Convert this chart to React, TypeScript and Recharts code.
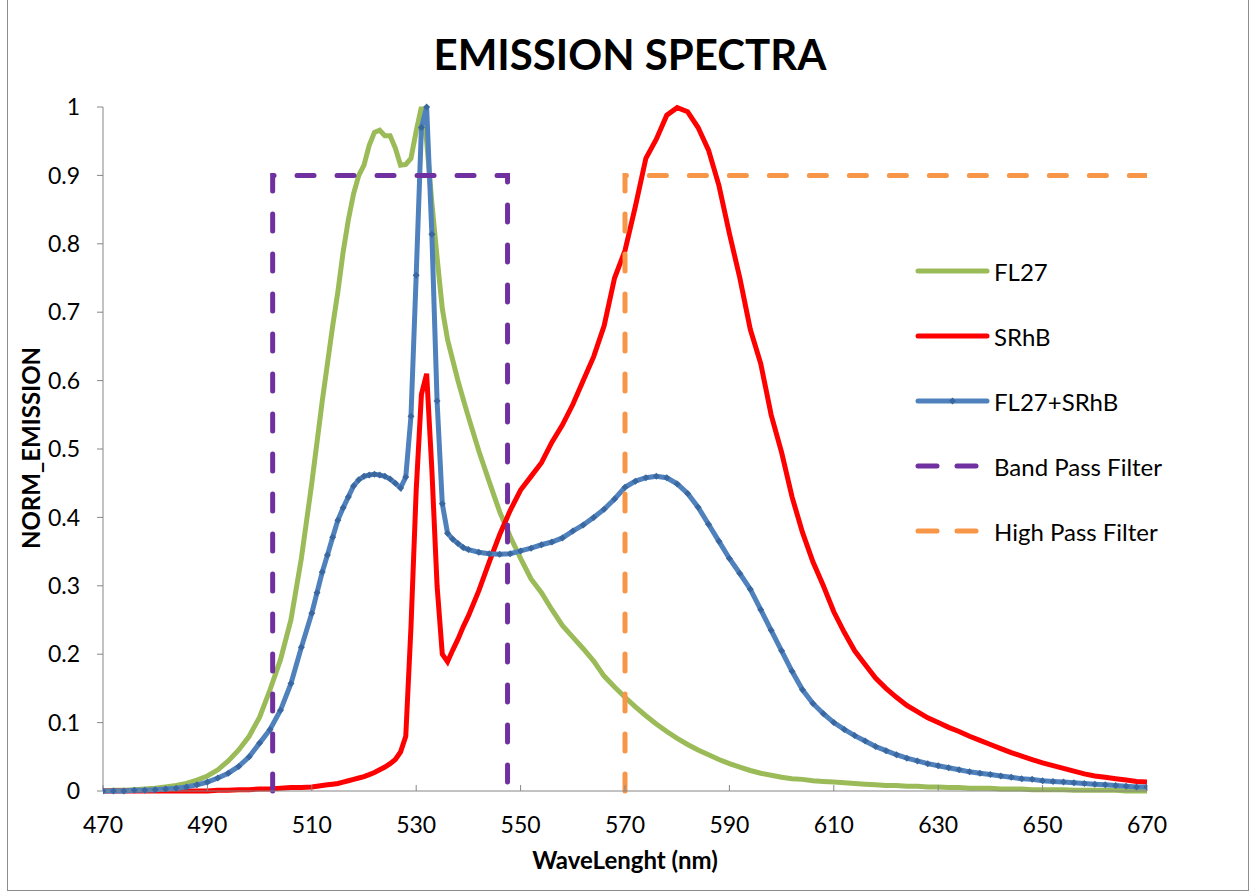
import React from 'react';
import { LineChart, Line, XAxis, YAxis } from 'recharts';

const W = 1253;
const H = 893;
const FONT = 'Lato, "Open Sans", sans-serif';

// wavelength grid (nm): 2 nm steps, 1 nm around the peaks
const WL = [
  470, 472, 474, 476, 478, 480, 482, 484, 486, 488, 490, 492, 494, 496, 498, 500, 502, 504, 506, 508, 510,
  511, 512, 513, 514, 515, 516, 517, 518, 519, 520, 521, 522, 523, 524, 525, 526, 527, 528, 529, 530,
  531, 532, 533, 534, 535, 536, 537, 538, 539, 540,
  542, 544, 546, 548, 550, 552, 554, 556, 558, 560, 562, 564, 566, 568, 570, 572, 574, 576, 578, 580,
  582, 584, 586, 588, 590, 592, 594, 596, 598, 600, 602, 604, 606, 608, 610, 612, 614, 616, 618, 620,
  622, 624, 626, 628, 630, 632, 634, 636, 638, 640, 642, 644, 646, 648, 650, 652, 654, 656, 658, 660,
  662, 664, 666, 668, 670,
];

const FL27 = [
  0, 0.001, 0.001, 0.002, 0.003, 0.004, 0.006, 0.008, 0.011, 0.016, 0.022, 0.031, 0.044, 0.06, 0.08, 0.108, 0.148, 0.192, 0.25, 0.34, 0.45,
  0.51, 0.57, 0.625, 0.68, 0.73, 0.788, 0.835, 0.873, 0.9, 0.915, 0.944, 0.963, 0.966, 0.958, 0.958, 0.94, 0.915, 0.916, 0.925, 0.965,
  1.0, 0.95, 0.86, 0.78, 0.705, 0.66, 0.63, 0.6, 0.573, 0.547,
  0.497, 0.452, 0.408, 0.372, 0.34, 0.31, 0.29, 0.265, 0.242, 0.225, 0.208, 0.19, 0.168, 0.152, 0.137, 0.123, 0.11, 0.098, 0.087, 0.077,
  0.068, 0.06, 0.053, 0.046, 0.04, 0.035, 0.03, 0.026, 0.023, 0.02, 0.018, 0.017, 0.015, 0.014, 0.013, 0.012, 0.011, 0.01, 0.009, 0.008,
  0.008, 0.007, 0.007, 0.006, 0.006, 0.005, 0.005, 0.004, 0.004, 0.004, 0.003, 0.003, 0.003, 0.002, 0.002, 0.002, 0.002, 0.001, 0.001, 0.001,
  0.001, 0.001, 0, 0, 0,
];

const SRHB = [
  0, 0, 0, 0, 0, 0, 0, 0, 0, 0, 0, 0.001, 0.001, 0.002, 0.002, 0.003, 0.003, 0.004, 0.005, 0.005, 0.006,
  0.007, 0.008, 0.009, 0.01, 0.011, 0.013, 0.015, 0.017, 0.019, 0.021, 0.024, 0.027, 0.031, 0.035, 0.04, 0.046, 0.057, 0.08, 0.24, 0.44,
  0.58, 0.61, 0.47, 0.3, 0.2, 0.189, 0.206, 0.222, 0.24, 0.256,
  0.293, 0.335, 0.375, 0.41, 0.44, 0.46, 0.48, 0.51, 0.535, 0.565, 0.6, 0.635, 0.68, 0.75, 0.79, 0.855, 0.925, 0.953, 0.988, 0.999,
  0.993, 0.97, 0.937, 0.885, 0.815, 0.75, 0.675, 0.625, 0.55, 0.495, 0.43, 0.378, 0.335, 0.3, 0.262, 0.232, 0.205, 0.185, 0.165, 0.15,
  0.137, 0.125, 0.116, 0.107, 0.1, 0.093, 0.087, 0.08, 0.074, 0.068, 0.062, 0.056, 0.051, 0.046, 0.041, 0.037, 0.033, 0.029, 0.025, 0.022,
  0.02, 0.018, 0.016, 0.014, 0.013,
];

const MIX = [
  0, 0, 0, 0.001, 0.001, 0.002, 0.003, 0.004, 0.006, 0.009, 0.013, 0.019, 0.026, 0.036, 0.05, 0.07, 0.09, 0.118, 0.157, 0.21, 0.26,
  0.29, 0.32, 0.345, 0.371, 0.396, 0.414, 0.43, 0.446, 0.455, 0.46, 0.462, 0.463, 0.462, 0.46, 0.456, 0.45, 0.443, 0.459, 0.548, 0.754,
  0.97, 1.0, 0.814, 0.57, 0.42, 0.377, 0.368, 0.362, 0.356, 0.353,
  0.349, 0.347, 0.346, 0.347, 0.351, 0.355, 0.36, 0.364, 0.37, 0.38, 0.389, 0.4, 0.412, 0.427, 0.444, 0.453, 0.458, 0.46, 0.458, 0.449,
  0.435, 0.415, 0.39, 0.365, 0.34, 0.318, 0.295, 0.265, 0.235, 0.205, 0.175, 0.148, 0.128, 0.113, 0.1, 0.09, 0.081, 0.073, 0.065, 0.059,
  0.053, 0.048, 0.044, 0.04, 0.037, 0.034, 0.031, 0.028, 0.026, 0.024, 0.022, 0.02, 0.018, 0.017, 0.015, 0.014, 0.013, 0.012, 0.011, 0.01,
  0.009, 0.008, 0.007, 0.006, 0.006,
];

// filter outlines
const BAND_WL = [502.5, 502.5, 547.5, 547.5];
const BAND_VAL = [0, 0.9, 0.9, 0];
const HIGH_WL = [570, 570, 670];
const HIGH_VAL = [0, 0.9, 0.9];

const X_TICKS = [470, 490, 510, 530, 550, 570, 590, 610, 630, 650, 670];
const Y_TICKS = [0, 0.1, 0.2, 0.3, 0.4, 0.5, 0.6, 0.7, 0.8, 0.9, 1];

const GREEN = '#9BBB59';
const RED = '#FF0000';
const BLUE = '#4F81BD';
const MARK = '#3A679F';
const PURPLE = '#7030A0';
const ORANGE = '#F79646';
const AXIS = '#868686';

const rows = WL.map((wl, i) => ({ wl, fl27: FL27[i], srhb: SRHB[i], mix: MIX[i] }));
const bandRows = BAND_WL.map((wl, i) => ({ wl, v: BAND_VAL[i] }));
const highRows = HIGH_WL.map((wl, i) => ({ wl, v: HIGH_VAL[i] }));

const MixDot = (props: any) => {
  const { cx, cy, index } = props;
  if (cx == null || cy == null) return <g key={index} />;
  const s = 3.5;
  return (
    <path key={index} d={`M${cx},${cy - s}L${cx + s},${cy}L${cx},${cy + s}L${cx - s},${cy}Z`} fill={MARK} />
  );
};

const LEGEND = [
  { name: 'FL27', color: GREEN, dashed: false, dot: false },
  { name: 'SRhB', color: RED, dashed: false, dot: false },
  { name: 'FL27+SRhB', color: BLUE, dashed: false, dot: true },
  { name: 'Band Pass Filter', color: PURPLE, dashed: true, dot: false },
  { name: 'High Pass Filter', color: ORANGE, dashed: true, dot: false },
];

export default function App() {
  return (
    <div style={{ position: 'absolute', left: 0, top: 0, width: W, height: H, background: '#fff', fontFamily: FONT }}>
      <div style={{
        position: 'absolute', left: 7, top: -2, width: 1242, height: 893,
        border: '1px solid #8c8c8c', boxSizing: 'border-box'
      }} />
      <div style={{
        position: 'absolute', left: 0, width: 1260, top: 30, textAlign: 'center',
        fontSize: 42, fontWeight: 700, color: '#000', lineHeight: '48px'
      }}>EMISSION SPECTRA</div>

      <LineChart width={W} height={H} data={rows} margin={{ top: 107, right: 106, bottom: 52, left: 43 }}
        style={{ position: 'absolute', left: 0, top: 0 }}>
        <XAxis type="number" dataKey="wl" domain={[470, 670]} ticks={X_TICKS} allowDataOverflow
          height={50} stroke={AXIS} tickSize={-6} tickMargin={32}
          tick={{ fill: '#000', fontSize: 23, fontFamily: FONT }} />
        <YAxis type="number" domain={[0, 1]} ticks={Y_TICKS} width={60} stroke={AXIS}
          tickSize={6} tickMargin={17}
          tickFormatter={(v: number) => String(Math.round(v * 10) / 10)}
          tick={{ fill: '#000', fontSize: 23, fontFamily: FONT }} />
        <Line type="linear" dataKey="fl27" stroke={GREEN} strokeWidth={5} dot={false} isAnimationActive={false} />
        <Line type="linear" dataKey="srhb" stroke={RED} strokeWidth={5} dot={false} isAnimationActive={false} />
        <Line type="linear" dataKey="mix" stroke={BLUE} strokeWidth={5} dot={MixDot} isAnimationActive={false} />
        <Line type="linear" data={bandRows} dataKey="v" stroke={PURPLE} strokeWidth={5} strokeDasharray="17 23"
          strokeLinecap="round" dot={false} isAnimationActive={false} />
        <Line type="linear" data={highRows} dataKey="v" stroke={ORANGE} strokeWidth={5} strokeDasharray="17 23"
          strokeLinecap="round" dot={false} isAnimationActive={false} />
      </LineChart>

      <div style={{
        position: 'absolute', left: 0, width: 1250, top: 845, textAlign: 'center',
        fontSize: 24, fontWeight: 700, color: '#000'
      }}>WaveLenght (nm)</div>
      <div style={{
        position: 'absolute', left: 30, top: 448, transform: 'translate(-50%, -50%) rotate(-90deg)',
        fontSize: 24, fontWeight: 700, color: '#000', whiteSpace: 'nowrap'
      }}>NORM_EMISSION</div>

      {LEGEND.map((item, i) => (
        <div key={item.name} style={{
          position: 'absolute', left: 914, top: 271 + i * 65 - 16, height: 32,
          display: 'flex', alignItems: 'center', whiteSpace: 'nowrap'
        }}>
          <svg width={78} height={12} style={{ display: 'block' }}>
            {item.dashed ? (
              <g stroke={item.color} strokeWidth={5} strokeLinecap="round">
                <line x1={4} y1={6} x2={23} y2={6} />
                <line x1={43} y1={6} x2={62} y2={6} />
              </g>
            ) : (
              <line x1={4} y1={6} x2={73} y2={6} stroke={item.color} strokeWidth={5} strokeLinecap="round" />
            )}
            {item.dot && <path d="M38.5,2.5L42,6L38.5,9.5L35,6Z" fill={MARK} />}
          </svg>
          <span style={{ marginLeft: 2, fontSize: 24, color: '#000' }}>{item.name}</span>
        </div>
      ))}
    </div>
  );
}
